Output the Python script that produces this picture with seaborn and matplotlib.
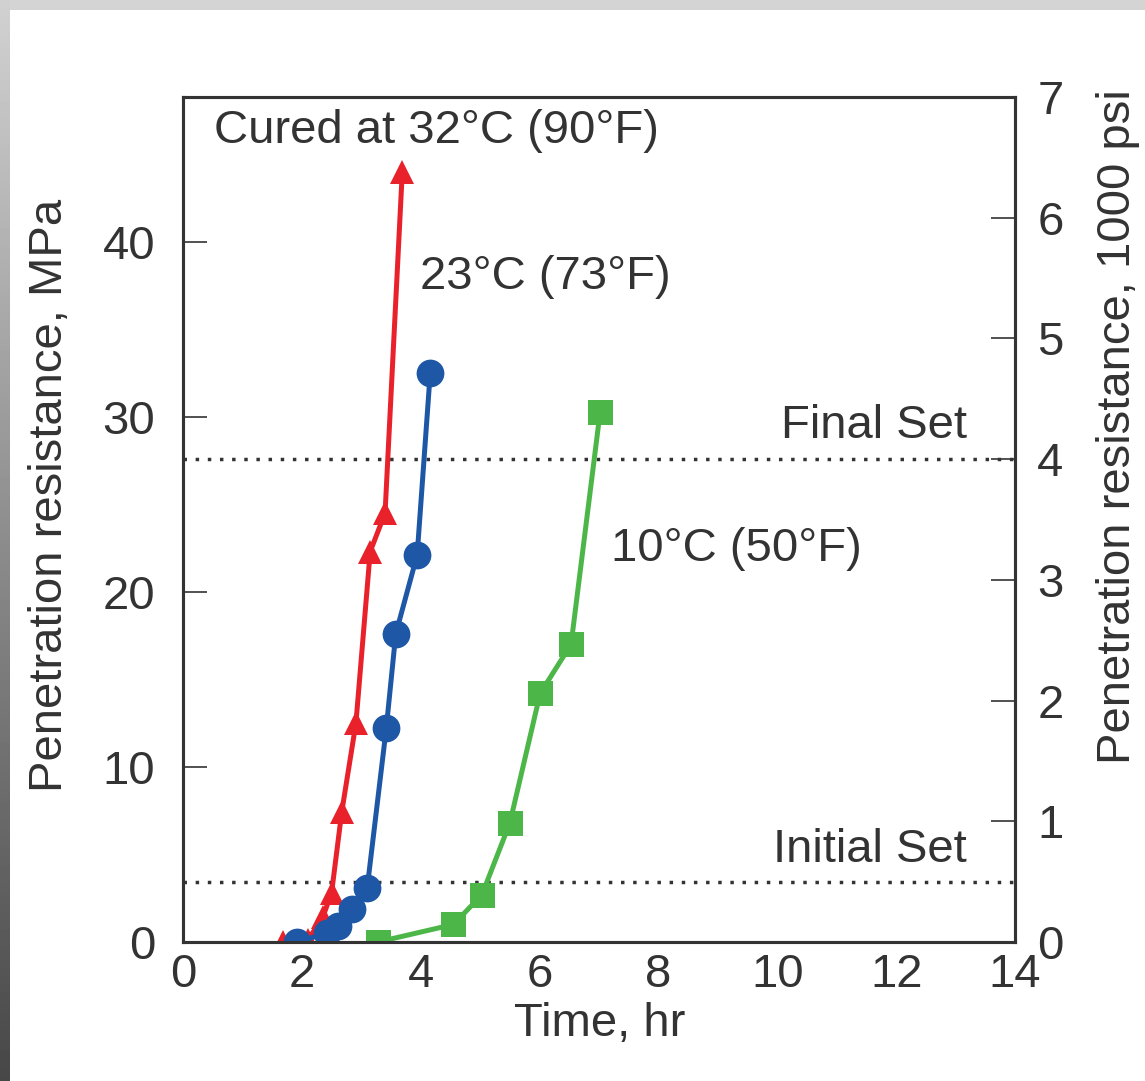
import numpy as np
import pandas as pd
import matplotlib
matplotlib.use("Agg")
import matplotlib.pyplot as plt
import seaborn as sns

# Penetration resistance (MPa) versus elapsed time (hr) for three curing temperatures
time_32c = [1.68, 2.10, 2.35, 2.50, 2.67, 2.91, 3.15, 3.40, 3.69]
mpa_32c = [0.0, 0.1, 1.4, 2.8, 7.4, 12.5, 22.3, 24.5, 44.0]

time_23c = [1.92, 2.42, 2.60, 2.84, 3.10, 3.42, 3.58, 3.94, 4.16]
mpa_23c = [0.0, 0.5, 0.9, 1.9, 3.1, 12.2, 17.6, 22.1, 32.5]

time_10c = [3.28, 4.55, 5.03, 5.50, 6.01, 6.53, 7.02]
mpa_10c = [0.0, 1.0, 2.7, 6.8, 14.2, 17.0, 30.3]

series_names = ["32C", "23C", "10C"]
series_colors = {"32C": "#e8212b", "23C": "#1d57a6", "10C": "#4db649"}
series_markers = {"32C": "^", "23C": "o", "10C": "s"}
series_msize = {"32C": 17, "23C": 20, "10C": 18}

x_ticks = [0, 2, 4, 6, 8, 10, 12, 14]
y_ticks_mpa = [0, 10, 20, 30, 40]
y_ticks_kpsi = [0, 1, 2, 3, 4, 5, 6, 7]

initial_set_psi = 500
final_set_psi = 4000
MPA_PER_KPSI = 6.894757

df = pd.concat([
    pd.DataFrame({"time": time_32c, "mpa": mpa_32c, "cure": "32C"}),
    pd.DataFrame({"time": time_23c, "mpa": mpa_23c, "cure": "23C"}),
    pd.DataFrame({"time": time_10c, "mpa": mpa_10c, "cure": "10C"}),
], ignore_index=True)

sns.set_theme(style="white")
plt.rcParams["font.family"] = ["Liberation Sans", "DejaVu Sans"]
text_color = "#333333"
plt.rcParams["text.color"] = text_color
plt.rcParams["axes.labelcolor"] = text_color
plt.rcParams["xtick.color"] = text_color
plt.rcParams["ytick.color"] = text_color
FS = 34

fig = plt.figure(figsize=(11.45, 10.81), dpi=100)
fig.patch.set_facecolor("white")

# slide frame: grey strip on top, shaded strip down the left side
top_strip = fig.add_axes([0, 1 - 10 / 1081, 1, 10 / 1081])
top_strip.set_axis_off()
top_strip.add_patch(plt.Rectangle((0, 0), 1, 1, color="#d4d4d4", transform=top_strip.transAxes))
left_strip = fig.add_axes([0, 0, 10 / 1145, 1])
grad = np.linspace(0.82, 0.28, 256).reshape(-1, 1)
left_strip.imshow(grad, aspect="auto", cmap="gray", vmin=0, vmax=1, extent=[0, 1, 0, 1], origin="upper")
left_strip.set_axis_off()

ax = fig.add_axes([183 / 1145, 139 / 1081, 832 / 1145, 845 / 1081])

ymax = 7 * MPA_PER_KPSI
ax.set_xlim(0, 14)
ax.set_ylim(0, ymax)

# setting thresholds
for psi in (initial_set_psi, final_set_psi):
    ax.axhline(psi / 1000 * MPA_PER_KPSI, color=text_color, lw=2.5,
               linestyle=(0, (1, 2.5)), dash_capstyle="butt", zorder=1)

for name in series_names:
    sub = df[df["cure"] == name]
    sns.lineplot(data=sub, x="time", y="mpa", ax=ax, color=series_colors[name],
                 marker=series_markers[name], markersize=series_msize[name],
                 markeredgewidth=0, linewidth=3.6, sort=False, estimator=None,
                 legend=False, zorder=3)

ax.set_xticks(x_ticks)
ax.set_yticks(y_ticks_mpa)
ax.tick_params(axis="both", direction="in", length=17, width=1.2, labelsize=FS,
               colors=text_color)
ax.tick_params(axis="y", pad=20)
ax.tick_params(axis="x", pad=8)
for s in ax.spines.values():
    s.set_color(text_color)
    s.set_linewidth(2.2)

ax.set_xlabel("Time, hr", fontsize=FS, va="center", ha="center")
ax.set_ylabel("Penetration resistance, MPa", fontsize=FS, va="center", ha="center")
ax.xaxis.set_label_coords(0.501, -0.097)
ax.yaxis.set_label_coords(-0.16, 0.529)

ax2 = ax.twinx()
ax2.set_ylim(0, 7)
ax2.set_yticks(y_ticks_kpsi)
ax2.tick_params(axis="y", direction="in", length=17, width=1.2, labelsize=FS, pad=16,
                colors=text_color)
for s in ax2.spines.values():
    s.set_color(text_color)
    s.set_linewidth(2.2)
ax2.set_ylabel("Penetration resistance, 1000 psi", fontsize=FS, rotation=90,
               va="center", ha="center")
ax2.yaxis.set_label_coords(1.124, 0.61)

ax.text(4.27, 46.3, "Cured at 32°C (90°F)", fontsize=FS, ha="center", va="center")
ax.text(6.1, 38.0, "23°C (73°F)", fontsize=FS, ha="center", va="center")
ax.text(9.32, 22.45, "10°C (50°F)", fontsize=FS, ha="center", va="center")
ax.text(13.2, 29.5, "Final Set", fontsize=FS, ha="right", va="center")
ax.text(13.18, 5.24, "Initial Set", fontsize=FS, ha="right", va="center")

fig.savefig("out.png", dpi=100, facecolor=fig.get_facecolor())
